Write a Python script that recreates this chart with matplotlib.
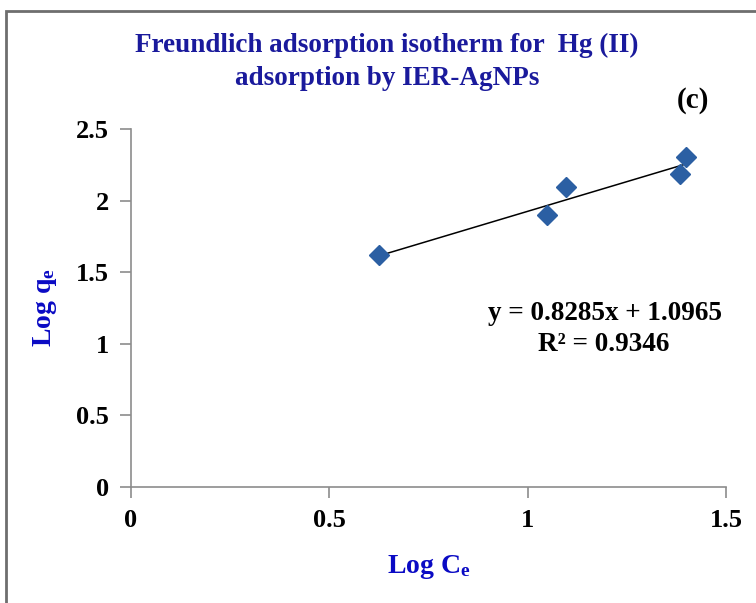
import matplotlib
matplotlib.use("Agg")
import matplotlib.pyplot as plt
from matplotlib.patches import Rectangle
import numpy as np

plt.rcParams['font.family'] = ['Liberation Serif', 'DejaVu Serif']
plt.rcParams['font.weight'] = 'bold'
plt.rcParams['axes.labelweight'] = 'bold'
plt.rcParams['mathtext.fontset'] = 'custom'
plt.rcParams['mathtext.rm'] = 'Liberation Serif:bold'
plt.rcParams['mathtext.it'] = 'Liberation Serif:bold'
plt.rcParams['mathtext.bf'] = 'Liberation Serif:bold'

# Freundlich isotherm data: log Ce vs log qe
log_ce = [0.625, 1.050, 1.096, 1.383, 1.398]
log_qe = [1.620, 1.900, 2.095, 2.186, 2.304]

# linear fit reported on the chart
slope = 0.8285
intercept = 1.0965
r2 = 0.9346

x_ticks = [0, 0.5, 1, 1.5]
y_ticks = [0, 0.5, 1, 1.5, 2, 2.5]

fig = plt.figure(figsize=(7.56, 6.03), dpi=100)
ax = fig.add_axes([0.1733, 0.1924, 0.787, 0.5937])

ax.plot(log_ce, log_qe, linestyle='none', marker='D', markersize=10,
        color='#2b5fa3', zorder=3)

xf = np.array([min(log_ce), max(log_ce)])
ax.plot(xf, slope * xf + intercept, color='black', lw=1.1, zorder=2)

ax.set_xlim(0, 1.5)
ax.set_ylim(0, 2.5)
ax.set_xticks(x_ticks)
ax.set_yticks(y_ticks)
ax.set_xticklabels(['0', '0.5', '1', '1.5'])
ax.set_yticklabels(['0', '0.5', '1', '1.5', '2', '2.5'])

for side in ['top', 'right']:
    ax.spines[side].set_visible(False)
for side in ['left', 'bottom']:
    ax.spines[side].set_color('#8c8c8c')
    ax.spines[side].set_linewidth(1.2)
ax.tick_params(axis='both', direction='out', length=8, width=1.2,
               color='#8c8c8c', labelsize=19, pad=8)
for lab in ax.get_xticklabels() + ax.get_yticklabels():
    lab.set_fontweight('bold')

ax.set_xlabel('Log C$_{e}$', fontsize=20, color='#0a0ac4',
              fontweight='bold', labelpad=15)
ax.set_ylabel('Log q$_{e}$', fontsize=20, color='#0a0ac4',
              fontweight='bold', labelpad=12)

fig.text(0.512, 0.897, 'Freundlich adsorption isotherm for  Hg (II)\nadsorption by IER-AgNPs',
         ha='center', va='center', fontsize=19.5, color='#1a1a9c',
         fontweight='bold', linespacing=1.45)
fig.text(0.917, 0.833, '(c)', ha='center', va='center', fontsize=21,
         color='black', fontweight='bold')

ax.text(0.993, 0.485, f'y = {slope}x + {intercept}', transform=ax.transAxes,
        ha='right', va='center', fontsize=19.5, fontweight='bold')
ax.text(0.795, 0.398, f'R² = {r2}', transform=ax.transAxes,
        ha='center', va='center', fontsize=19.5, fontweight='bold')

# outer chart frame, running past the right and bottom edges
fig.patches.append(Rectangle((6 / 756, -0.2), 1.2, 0.2 + 1 - 11 / 603,
                             transform=fig.transFigure, fill=False,
                             edgecolor='#6e6e6e', linewidth=2))

fig.savefig('out.png', dpi=100)
